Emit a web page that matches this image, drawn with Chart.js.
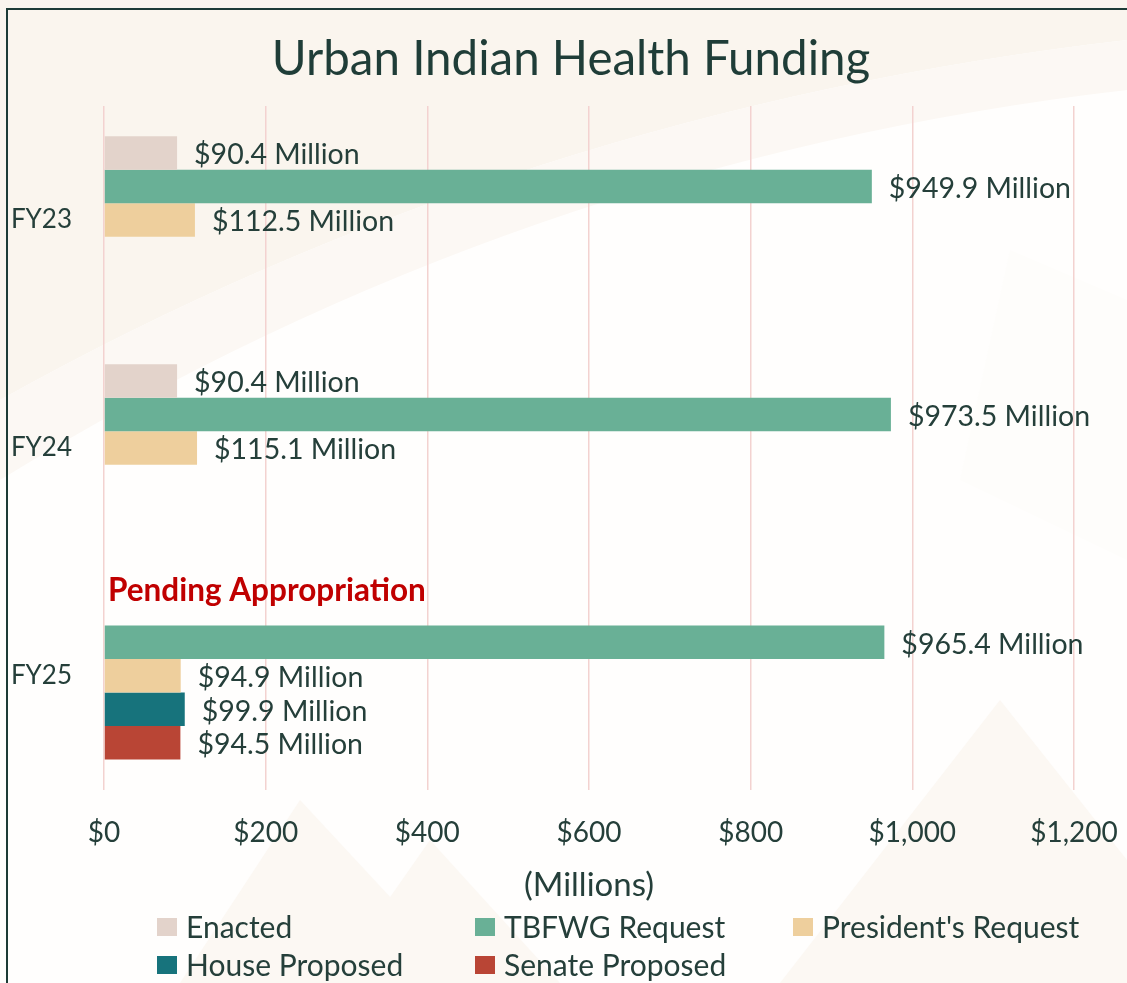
<!DOCTYPE html>
<html>
<head>
<meta charset="utf-8">
<script src="https://cdn.jsdelivr.net/npm/chart.js@4"></script>
<style>
  html, body { margin: 0; padding: 0; background: #fbf7f1; }
  #wrap { position: relative; width: 1127px; height: 983px; overflow: hidden; }
  #frame { position: absolute; left: 6px; top: 8px; width: 1200px; height: 1100px;
           border-left: 2px solid #1d3b36; border-top: 2px solid #1d3b36; pointer-events: none; }
</style>
</head>
<body>
<div id="wrap">
  <canvas id="chart" width="1127" height="983"></canvas>
  <div id="frame"></div>
</div>
<script>
const years = ['FY23', 'FY24', 'FY25'];
const seriesNames = ['Enacted', 'TBFWG Request', "President's Request", 'House Proposed', 'Senate Proposed'];
const enacted = [90.4, 90.4, null];
const tbfwgRequest = [949.9, 973.5, 965.4];
const presidentsRequest = [112.5, 115.1, 94.9];
const houseProposed = [null, null, 99.9];
const senateProposed = [null, null, 94.5];
const enactedNotes = [null, null, 'Pending Appropriation'];
const xTicks = [0, 200, 400, 600, 800, 1000, 1200];
const chartTitle = 'Urban Indian Health Funding';

const seriesColors = ['#e3d3cb', '#69b096', '#eecf9d', '#17737c', '#b94535'];
const textColor = '#253f3a';
const FONT = 'Lato';

// faint background shapes like the slide template
const backdrop = {
  id: 'backdrop',
  beforeDraw(chart) {
    const { ctx, width, height } = chart;
    ctx.save();
    ctx.fillStyle = '#fffefd';
    ctx.fillRect(0, 0, width, height);
    ctx.fillStyle = '#faf5ee';
    ctx.beginPath();
    ctx.moveTo(0, 0);
    ctx.lineTo(width, 0);
    ctx.lineTo(width, 40);
    ctx.quadraticCurveTo(520, 110, 0, 400);
    ctx.closePath();
    ctx.fill();
    ctx.fillStyle = '#fcf8f4';
    ctx.beginPath();
    ctx.moveTo(0, 400);
    ctx.quadraticCurveTo(520, 110, width, 40);
    ctx.lineTo(width, 90);
    ctx.quadraticCurveTo(520, 160, 0, 480);
    ctx.closePath();
    ctx.fill();
    ctx.fillStyle = '#fcf8f3';
    [[[180, 983], [300, 800], [470, 983]], [[330, 983], [430, 840], [560, 983]],
     [[780, 983], [1000, 700], [1127, 860], [1127, 983]]]
      .forEach(pts => {
        ctx.beginPath();
        ctx.moveTo(pts[0][0], pts[0][1]);
        pts.slice(1).forEach(p => ctx.lineTo(p[0], p[1]));
        ctx.closePath();
        ctx.fill();
      });
    ctx.fillStyle = '#fefdfb';
    ctx.beginPath();
    ctx.moveTo(1010, 250); ctx.lineTo(1127, 300); ctx.lineTo(1127, 560); ctx.lineTo(960, 480);
    ctx.closePath();
    ctx.fill();
    ctx.restore();
  }
};

const titleText = {
  id: 'titleText',
  afterDraw(chart) {
    const { ctx } = chart;
    ctx.save();
    ctx.font = `47.5px ${FONT}`;
    ctx.fillStyle = '#1f3d38';
    ctx.textAlign = 'center';
    ctx.textBaseline = 'middle';
    ctx.fillText(chartTitle, 571, 60);
    ctx.restore();
  }
};

const valueLabels = {
  id: 'valueLabels',
  afterDatasetsDraw(chart) {
    const { ctx } = chart;
    ctx.save();
    ctx.textBaseline = 'middle';
    ctx.textAlign = 'left';
    chart.data.datasets.forEach((ds, i) => {
      const meta = chart.getDatasetMeta(i);
      meta.data.forEach((bar, j) => {
        const v = ds.data[j];
        if (v == null) return;
        ctx.font = `28.5px ${FONT}`;
        ctx.fillStyle = textColor;
        ctx.fillText(`$${v.toFixed(1)} Million`, bar.x + 17, bar.y + 2);
      });
    });
    // note in the empty Enacted slot
    const meta0 = chart.getDatasetMeta(0);
    enactedNotes.forEach((note, j) => {
      if (!note) return;
      const ref = chart.getDatasetMeta(2).data[j];
      const slot = ref.height;
      const y = (meta0.data[j] && isFinite(meta0.data[j].y)) ? meta0.data[j].y : ref.y - 2 * slot;
      ctx.font = `bold 31.5px ${FONT}`;
      ctx.fillStyle = '#c00000';
      ctx.fillText(note, chart.chartArea.left + 4, y - 18);
    });
    ctx.restore();
  }
};

const gridLegend = {
  id: 'gridLegend',
  afterDraw(chart) {
    const { ctx } = chart;
    const cols = [157, 475, 793];
    const rows = [927, 965];
    ctx.save();
    ctx.textBaseline = 'middle';
    ctx.textAlign = 'left';
    ctx.font = `30px ${FONT}`;
    chart.data.datasets.forEach((ds, i) => {
      const x = cols[i % 3];
      const y = rows[Math.floor(i / 3)];
      ctx.fillStyle = ds.backgroundColor;
      ctx.fillRect(x, y - 9, 20, 18);
      ctx.fillStyle = textColor;
      ctx.fillText(ds.label, x + 29, y + 1);
    });
    ctx.restore();
  }
};

const seriesData = [enacted, tbfwgRequest, presidentsRequest, houseProposed, senateProposed];

new Chart(document.getElementById('chart'), {
  type: 'bar',
  data: {
    labels: years,
    datasets: seriesNames.map((name, i) => ({
      label: name,
      data: seriesData[i],
      backgroundColor: seriesColors[i],
      borderWidth: 0,
      categoryPercentage: 0.735,
      barPercentage: 1.0
    }))
  },
  options: {
    indexAxis: 'y',
    responsive: false,
    animation: false,
    layout: { padding: { top: 106, left: 8, right: 53, bottom: 78 } },
    plugins: {
      legend: { display: false },
      tooltip: { enabled: false },
      title: { display: false }
    },
    scales: {
      x: {
        min: 0,
        max: 1200,
        afterBuildTicks(scale) { scale.ticks = xTicks.map(v => ({ value: v })); },
        afterFit(scale) { scale.paddingLeft = 0; scale.paddingRight = 0; },
        grid: { color: '#f3d2d0', lineWidth: 1.5, drawTicks: false },
        border: { display: false },
        ticks: {
          padding: 26,
          color: textColor,
          font: { family: FONT, size: 28 },
          callback: v => '$' + v.toLocaleString('en-US')
        },
        title: {
          display: true,
          text: '(Millions)',
          color: textColor,
          font: { family: FONT, size: 33 },
          padding: { top: -10, bottom: 0 }
        }
      },
      y: {
        afterFit(scale) { scale.width = 96; },
        grid: { display: false, drawTicks: false },
        border: { display: false },
        ticks: {
          padding: 32,
          color: textColor,
          font: { family: FONT, size: 26 }
        }
      }
    }
  },
  plugins: [backdrop, valueLabels, gridLegend, titleText]
});
</script>
</body>
</html>
